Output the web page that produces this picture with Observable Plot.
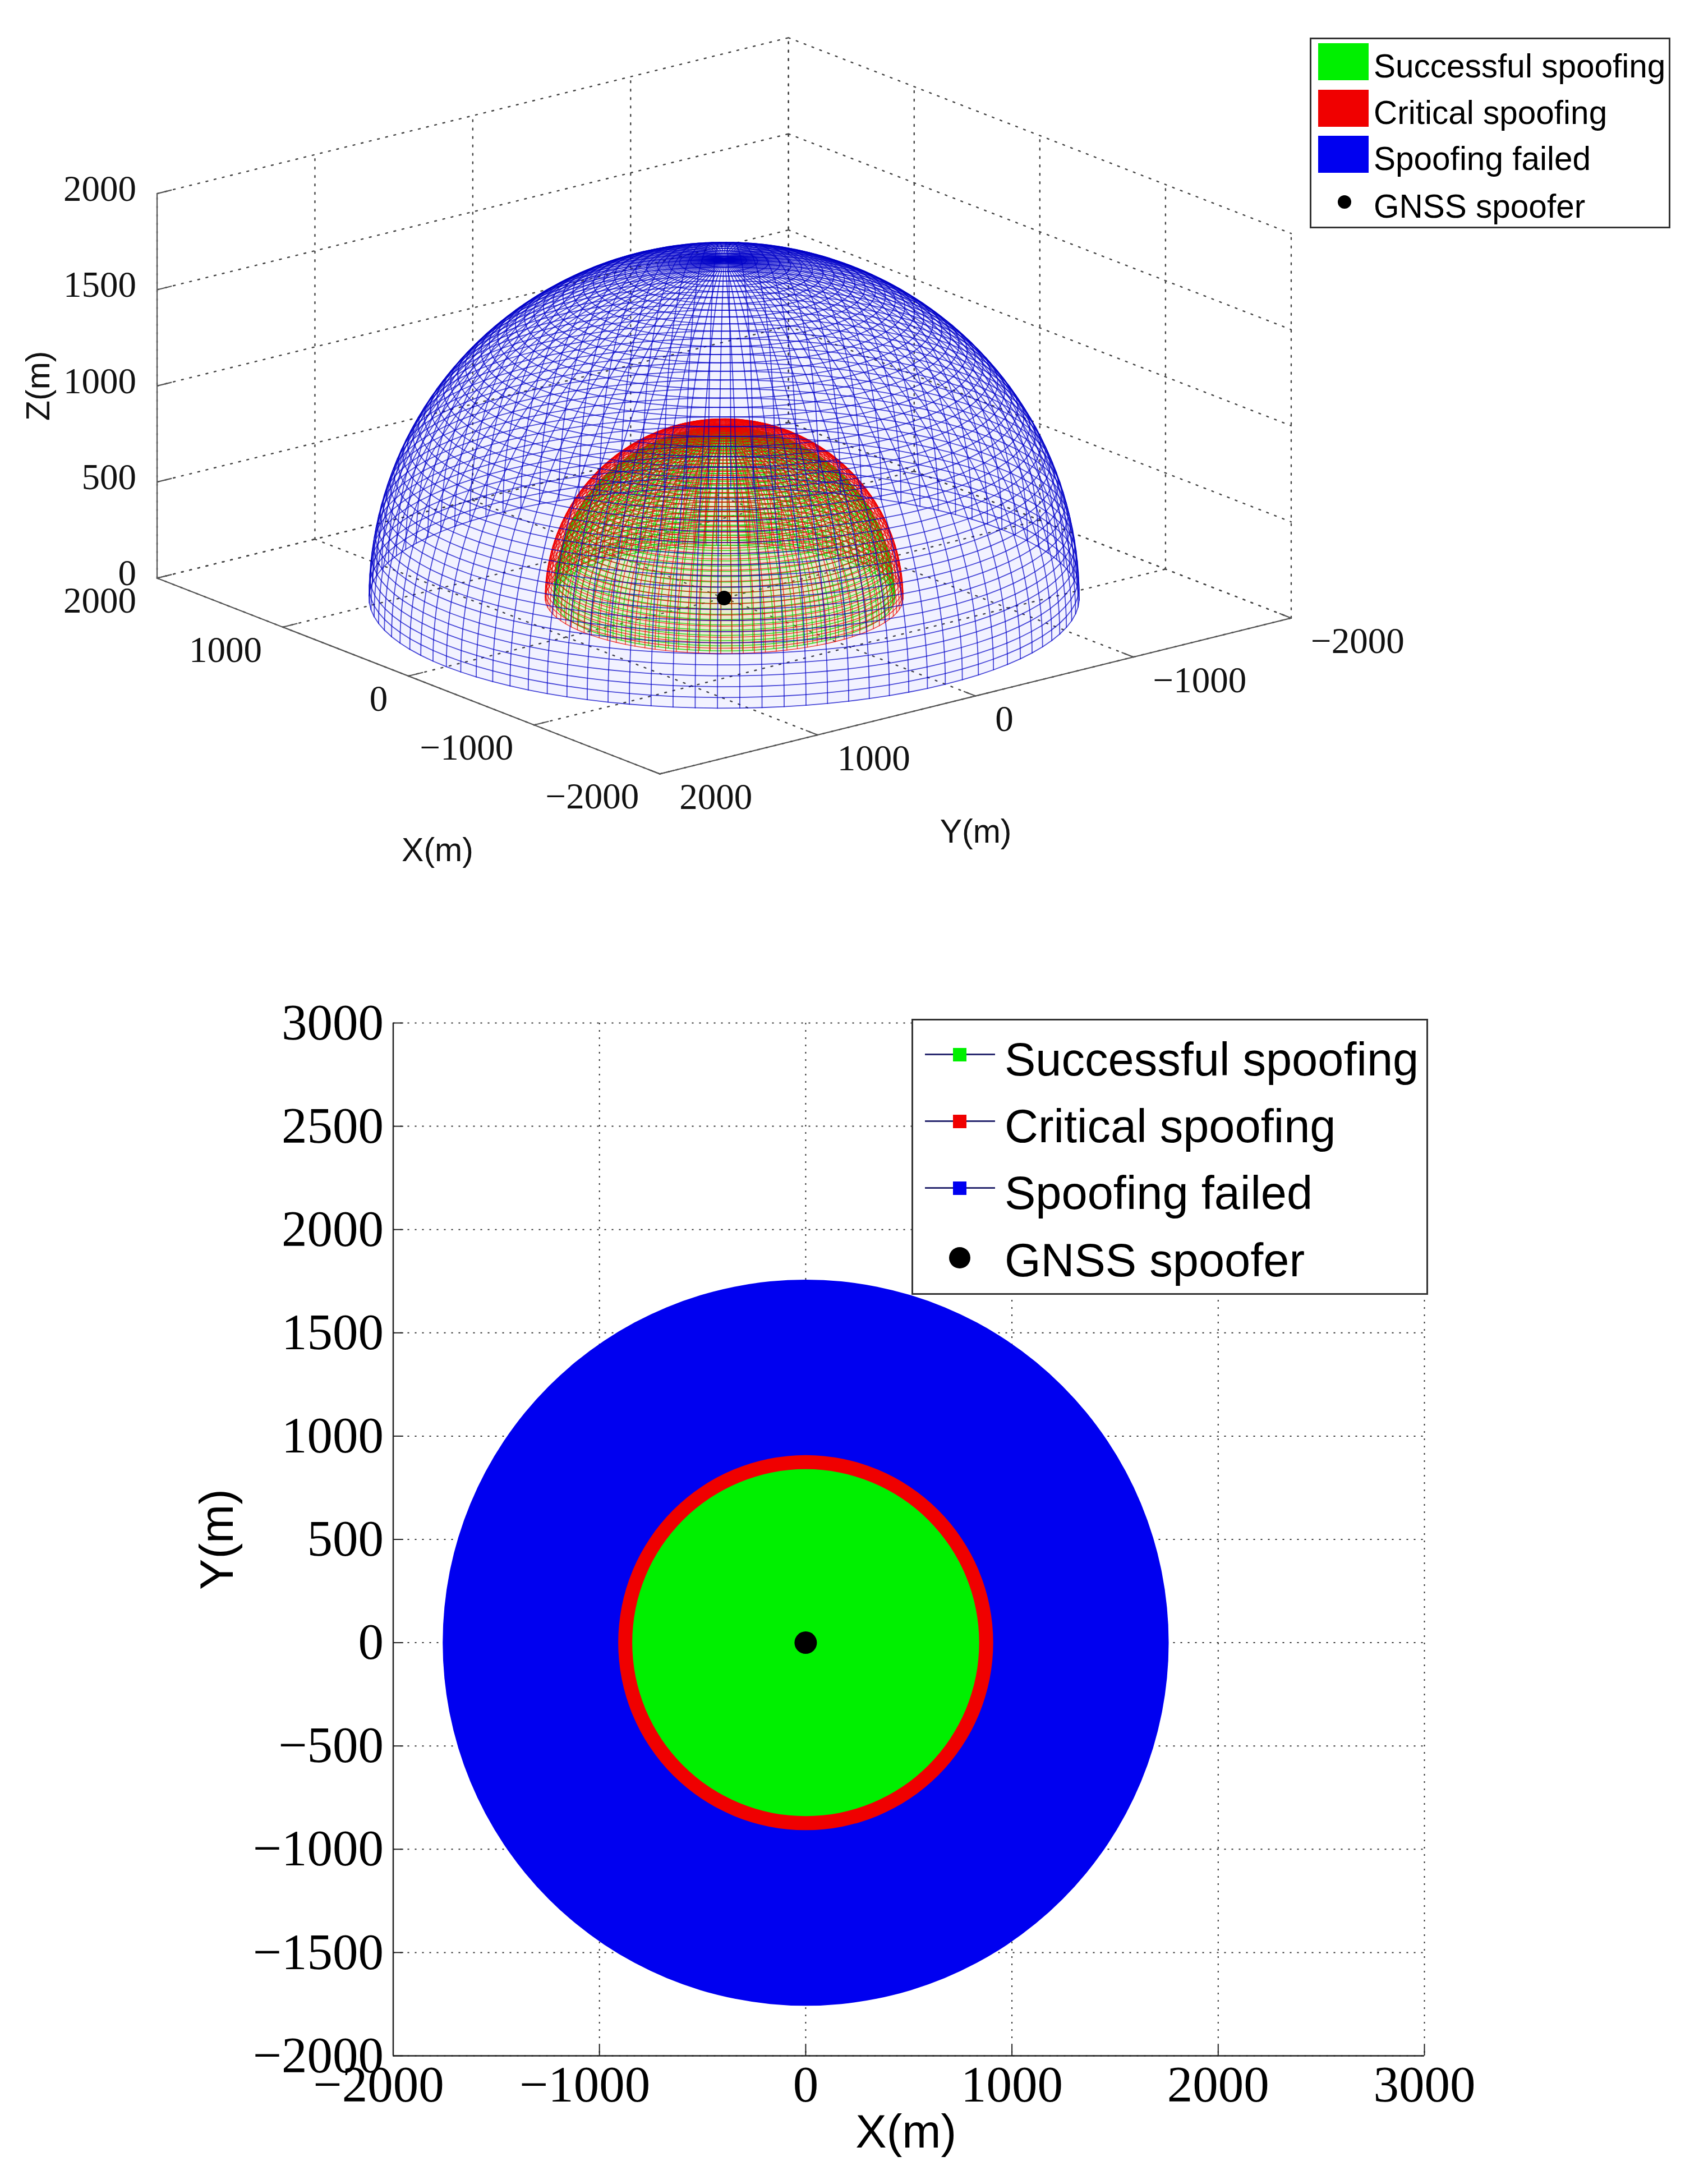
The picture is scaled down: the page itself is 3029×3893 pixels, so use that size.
<!DOCTYPE html>
<html><head><meta charset="utf-8">
<script src="https://cdn.jsdelivr.net/npm/d3@7"></script>
<script src="https://cdn.jsdelivr.net/npm/@observablehq/plot@0.6"></script>
<style>
html,body{margin:0;padding:0;background:#fff;overflow:hidden}
#page{position:relative;width:3029px;height:3893px}
#top,#bottom{position:absolute;left:0}
#top{top:0}#bottom{top:1700px}
svg{max-width:none!important;background:#fff}
.lg{position:absolute;background:#fff;box-sizing:border-box}
.lg span{position:absolute;white-space:nowrap;font-family:"Liberation Sans",sans-serif;color:#000;line-height:1;transform:translateY(-50%)}
.lg i{position:absolute;display:block}
</style></head><body><div id="page"><div id="top"></div><div id="bottom"></div></div>
<script>
// Data
const boxXTicks=[-2000,-1000,0,1000,2000];
const boxYTicks=[-2000,-1000,0,1000,2000];
const boxZTicks=[0,500,1000,1500,2000];
const domeRadii=[845,887,1760];
const domeColors=["#10d000","#f00000","#0000c8"];
const domeWidths=[1.5,1.4,1.8];
const domeOpacity=[.85,.78,.7];
const domeTints=["#d8d800","#d8d800","#0000ff"];
const domeTintOpacity=[.1,.1,.05];
const meridianStepDeg=3.6;
const parallelStepDeg=1.8;
const discRadii=[1760,909,841];
const discColors=["#0000f0","#f00000","#00f000"];
const planXTicks=[-2000,-1000,0,1000,2000,3000];
const planYTicks=[-2000,-1500,-1000,-500,0,500,1000,1500,2000,2500,3000];
const legendLabels=["Successful spoofing","Critical spoofing","Spoofing failed","GNSS spoofer"];
const legendColors=["#00f000","#f00000","#0000f0"];
const spoofer=[0,0,0];

// View of the 3-D axes (orthographic)
const cA=.625,sA=.785,sE=.31,cE=.956;
const U=(x,y,z)=>-(x*cA+y*sA);
const V=(x,y,z)=>z*cE+sE*(x*sA-y*cA);
const pts=a=>a.map(([x,y,z])=>({u:U(x,y,z),v:V(x,y,z)}));
const serif='"Liberation Serif",serif', sans='"Liberation Sans",sans-serif';
const tickTxt=d3.format("d");

// hemispherical mesh
function mesh(R,id){
  const rows=[],lats=d3.range(0,90+1e-6,parallelStepDeg),lons=d3.range(0,360+1e-6,meridianStepDeg),rad=Math.PI/180;
  const P=(lon,lat)=>[R*Math.cos(lat*rad)*Math.cos(lon*rad),R*Math.cos(lat*rad)*Math.sin(lon*rad),R*Math.sin(lat*rad)];
  lons.slice(0,-1).forEach((lon,i)=>lats.forEach(lat=>{const [x,y,z]=P(lon,lat);rows.push({k:id+"m"+i,u:U(x,y,z),v:V(x,y,z)})}));
  lats.forEach((lat,i)=>lons.forEach(lon=>{const [x,y,z]=P(lon,lat);rows.push({k:id+"p"+i,u:U(x,y,z),v:V(x,y,z)})}));
  return rows;
}
const hull=rows=>d3.polygonHull(rows.map(d=>[d.u,d.v])).map(([u,v])=>({u,v}));
const seg=(a,b,k)=>pts([a,b]).map(p=>({...p,k}));
const T=2000;
const gridLines=[];
boxXTicks.forEach(x=>{gridLines.push(...seg([x,T,0],[x,-T,0],"fx"+x));gridLines.push(...seg([x,-T,0],[x,-T,T],"wx"+x));});
boxYTicks.forEach(y=>{gridLines.push(...seg([T,y,0],[-T,y,0],"fy"+y));gridLines.push(...seg([T,y,0],[T,y,T],"wy"+y));});
boxZTicks.forEach(z=>{gridLines.push(...seg([T,T,z],[T,-T,z],"a"+z));gridLines.push(...seg([T,-T,z],[-T,-T,z],"b"+z));});
const axisLines=[...seg([T,T,0],[T,T,T],"z"),...seg([T,T,0],[-T,T,0],"x"),...seg([-T,T,0],[-T,-T,0],"y")];
const tl=90;
boxXTicks.forEach(x=>axisLines.push(...seg([x,T,0],[x,T-tl,0],"tx"+x)));
boxYTicks.forEach(y=>axisLines.push(...seg([-T,y,0],[-T+tl,y,0],"ty"+y)));
boxZTicks.forEach(z=>axisLines.push(...seg([T,T,z],[T,T-tl,z],"tz"+z)));

const s3=.3585, cx=1290.5, cy=1065.6, H1=1700;
const txt={fontFamily:serif,fontSize:65,fill:"#111"};
const meshes=domeRadii.map((R,i)=>mesh(R,i));
const chart3d=Plot.plot({
  width:3029,height:H1,margin:0,
  style:{background:"#fff"},
  x:{axis:null,domain:[-cx/s3,(3029-cx)/s3],range:[0,3029]},
  y:{axis:null,domain:[-(H1-cy)/s3,cy/s3],range:[H1,0]},
  marks:[
    Plot.line(gridLines,{x:"u",y:"v",z:"k",stroke:"#444",strokeWidth:2.4,strokeDasharray:"3,12"}),
    ...meshes.map((m,i)=>Plot.line(hull(m),{x:"u",y:"v",fill:domeTints[i],fillOpacity:domeTintOpacity[i],stroke:"none"})),
    ...meshes.map((m,i)=>Plot.line(m,{x:"u",y:"v",z:"k",stroke:domeColors[i],strokeWidth:domeWidths[i],strokeOpacity:domeOpacity[i]})),
    Plot.line(axisLines,{x:"u",y:"v",z:"k",stroke:"#555",strokeWidth:2.2}),
    Plot.dot([spoofer],{x:d=>U(...d),y:d=>V(...d),r:13,fill:"#000"}),
    Plot.text(boxZTicks,{x:()=>U(T,T,0),y:z=>V(T,T,z),text:z=>tickTxt(z),textAnchor:"end",dx:-37,dy:-8,...txt}),
    Plot.text(boxXTicks,{x:x=>U(x,T,0),y:x=>V(x,T,0),text:x=>tickTxt(x),textAnchor:"end",dx:-37,dy:41,...txt}),
    Plot.text(boxYTicks,{x:y=>U(-T,y,0),y:y=>V(-T,y,0),text:y=>tickTxt(y),textAnchor:"start",dx:35,dy:42,...txt}),
    Plot.text(["X(m)"],{x:()=>U(-2270,3634,0),y:()=>V(-2270,3634,0),dx:3,fontFamily:sans,fontSize:59,fill:"#111"}),
    Plot.text(["Y(m)"],{x:()=>U(-3704,1355,0),y:()=>V(-3704,1355,0),fontFamily:sans,fontSize:59,fill:"#111"}),
    Plot.text(["Z(m)"],{x:()=>U(T,T,1000),y:()=>V(T,T,1000),dx:-211,rotate:-90,fontFamily:sans,fontSize:59,fill:"#111"})
  ]
});
document.getElementById("top").append(chart3d);

// plan view
const H2=2193, pL=700.5, pR=2539, pT=1823, pB=3664;
const xAxisStyle={anchor:"bottom",tickSize:0,tickPadding:17,tickFormat:tickTxt,fontFamily:serif,fontSize:91,fill:"#000",label:null};
const chartPlan=Plot.plot({
  width:3029,height:H2,
  marginLeft:pL,marginRight:3029-pR,marginTop:pT-1700,marginBottom:H2-(pB-1700),
  style:{background:"#fff",overflow:"visible"},
  x:{domain:[-2000,3000],axis:null},
  y:{domain:[-2000,3000],axis:null},
  r:{type:"linear",domain:[0,3000],range:[0,3000*(pR-pL)/5000]},
  marks:[
    Plot.gridX(planXTicks,{stroke:"#333",strokeOpacity:1,strokeWidth:2,strokeDasharray:"3,10"}),
    Plot.gridY(planYTicks,{stroke:"#333",strokeOpacity:1,strokeWidth:2,strokeDasharray:"3,10"}),
    ...discRadii.map((R,i)=>Plot.dot([R],{x:()=>0,y:()=>0,r:d=>d,fill:discColors[i],stroke:null})),
    Plot.dot([spoofer],{x:d=>d[0],y:d=>d[1],r:20,fill:"#000"}),
    Plot.ruleX([-2000],{stroke:"#222",strokeWidth:2.5}),
    Plot.ruleY([-2000],{stroke:"#222",strokeWidth:2.5}),
    Plot.ruleX(planXTicks,{y1:-2000,y2:-1950,stroke:"#222",strokeWidth:2}),
    Plot.ruleY(planYTicks,{x1:-2000,x2:-1950,stroke:"#222",strokeWidth:2}),
    Plot.axisX(planXTicks.filter(t=>t>=0),xAxisStyle),
    Plot.axisX(planXTicks.filter(t=>t<0),{...xAxisStyle,dx:-26}),
    Plot.axisY(planYTicks,{anchor:"left",tickSize:0,tickPadding:17,tickFormat:tickTxt,fontFamily:serif,fontSize:91,fill:"#000",label:null}),
    Plot.text(["X(m)"],{frameAnchor:"bottom",lineAnchor:"middle",dx:-5,dy:137,fontFamily:sans,fontSize:83,fill:"#000"}),
    Plot.text(["Y(m)"],{frameAnchor:"left",textAnchor:"middle",dx:-313,rotate:-90,fontFamily:sans,fontSize:83,fill:"#000"})
  ]
});
document.getElementById("bottom").append(chartPlan);

// legends
function legend(box,fontSize,textLeft,rowYs,draw){
  const d=document.createElement("div");d.className="lg";
  Object.assign(d.style,{left:box[0]+"px",top:box[1]+"px",width:(box[2]-box[0])+"px",height:(box[3]-box[1])+"px",border:"3px solid #333"});
  legendLabels.forEach((t,i)=>{
    const s=document.createElement("span");s.textContent=t;
    s.style.left=(textLeft-box[0]-3)+"px";s.style.top=(rowYs[i]-box[1]-3)+"px";s.style.fontSize=fontSize+"px";
    d.append(s);
    draw(d,i,rowYs[i]-box[1]-3);
  });
  document.getElementById("page").append(d);
}
const mk=(p,st)=>{const i=document.createElement("i");Object.assign(i.style,st);p.append(i);return i};
legend([2335,67,2978,407],58.5,2449,[118,201,283,368],(d,i,y)=>{
  if(i<3) mk(d,{left:"12px",top:(y-41)+"px",width:"90px",height:"66px",background:legendColors[i]});
  else mk(d,{left:"47px",top:(y-20)+"px",width:"24px",height:"24px",borderRadius:"50%",background:"#000"});
});
legend([1625,1816,2546,2308],83,1791,[1888,2007,2126,2246],(d,i,y)=>{
  if(i<3){
    mk(d,{left:"21px",top:(y-8-2)+"px",width:"125px",height:"3px",background:"#2a2a70"});
    mk(d,{left:"71px",top:(y-8-12)+"px",width:"24px",height:"24px",background:legendColors[i]});
  } else mk(d,{left:"64px",top:(y-4-19)+"px",width:"38px",height:"38px",borderRadius:"50%",background:"#000"});
});
</script></body></html>
